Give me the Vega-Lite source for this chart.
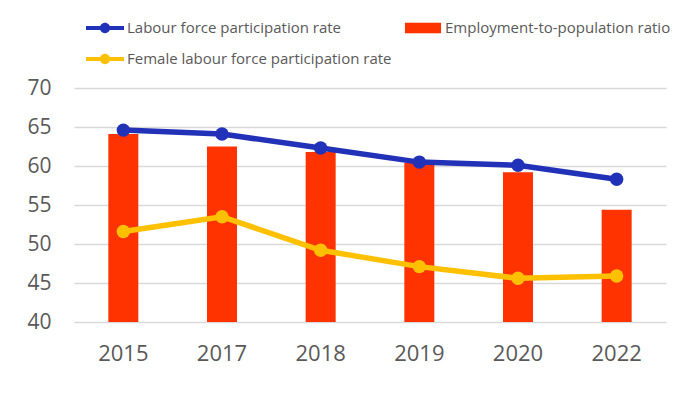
{
  "$schema": "https://vega.github.io/schema/vega-lite/v6.json",
  "width": 592,
  "height": 234,
  "autosize": {"type": "none"},
  "padding": {"left": 74, "top": 88, "right": 24, "bottom": 72},
  "background": "white",
  "config": {
    "view": {"stroke": null},
    "font": "Open Sans",
    "axis": {"labelColor": "#595959", "labelFont": "Open Sans", "domain": false, "ticks": false, "title": null}
  },
  "data": {
    "values": [
      {"year": "2015", "series": "Labour force participation rate", "value": 64.6},
      {"year": "2017", "series": "Labour force participation rate", "value": 64.1},
      {"year": "2018", "series": "Labour force participation rate", "value": 62.3},
      {"year": "2019", "series": "Labour force participation rate", "value": 60.5},
      {"year": "2020", "series": "Labour force participation rate", "value": 60.1},
      {"year": "2022", "series": "Labour force participation rate", "value": 58.3},
      {"year": "2015", "series": "Employment-to-population ratio", "value": 64.1},
      {"year": "2017", "series": "Employment-to-population ratio", "value": 62.5},
      {"year": "2018", "series": "Employment-to-population ratio", "value": 61.8},
      {"year": "2019", "series": "Employment-to-population ratio", "value": 60.4},
      {"year": "2020", "series": "Employment-to-population ratio", "value": 59.2},
      {"year": "2022", "series": "Employment-to-population ratio", "value": 54.4},
      {"year": "2015", "series": "Female labour force participation rate", "value": 51.6},
      {"year": "2017", "series": "Female labour force participation rate", "value": 53.5},
      {"year": "2018", "series": "Female labour force participation rate", "value": 49.2},
      {"year": "2019", "series": "Female labour force participation rate", "value": 47.1},
      {"year": "2020", "series": "Female labour force participation rate", "value": 45.6},
      {"year": "2022", "series": "Female labour force participation rate", "value": 45.9}
    ]
  },
  "encoding": {
    "x": {
      "field": "year", "type": "nominal", "sort": null,
      "scale": {"paddingInner": 0, "paddingOuter": 0},
      "axis": {"labelAngle": 0, "labelFontSize": 22, "labelPadding": 21, "grid": false}
    },
    "y": {
      "field": "value", "type": "quantitative",
      "scale": {"domain": [40, 70], "zero": false, "nice": false},
      "axis": {"values": [40, 45, 50, 55, 60, 65, 70], "labelFontSize": 21, "labelPadding": 23, "grid": true, "gridColor": "#D9D9D9", "gridWidth": 1.5}
    },
    "color": {
      "field": "series", "type": "nominal",
      "scale": {
        "domain": ["Labour force participation rate", "Employment-to-population ratio", "Female labour force participation rate"],
        "range": ["#2131B8", "#FF3300", "#FFC000"]
      },
      "legend": {
        "title": null,
        "orient": "none",
        "legendX": 12,
        "legendY": -79,
        "direction": "horizontal",
        "columns": 2,
        "padding": 0,
        "columnPadding": 12,
        "rowPadding": 4,
        "labelFont": "Open Sans",
        "labelFontSize": 15,
        "labelColor": "#595959",
        "labelLimit": 500,
        "labelOffset": 3,
        "symbolSize": 1444,
        "symbolOpacity": 1,
        "encode": {
          "symbols": {
            "update": {
              "shape": {"signal": "datum.value === 'Employment-to-population ratio' ? 'M-0.95,-0.28H0.95V0.28H-0.95Z' : 'M-1,-0.11H1V0.11H-1Z M0.27,0A0.27,0.27 0 1,1 -0.27,0A0.27,0.27 0 1,1 0.27,0Z'"},
              "fill": {"signal": "scale('color', datum.value)"},
              "fillOpacity": {"value": 1},
              "opacity": {"value": 1},
              "strokeWidth": {"value": 0}
            }
          }
        }
      }
    }
  },
  "layer": [
    {
      "transform": [{"filter": "datum.series === 'Employment-to-population ratio'"}],
      "mark": {"type": "bar", "size": 30, "clip": true}
    },
    {
      "transform": [{"filter": "datum.series !== 'Employment-to-population ratio'"}],
      "mark": {"type": "line", "strokeWidth": 5.5, "point": {"size": 180, "filled": true, "opacity": 1}}
    }
  ]
}
